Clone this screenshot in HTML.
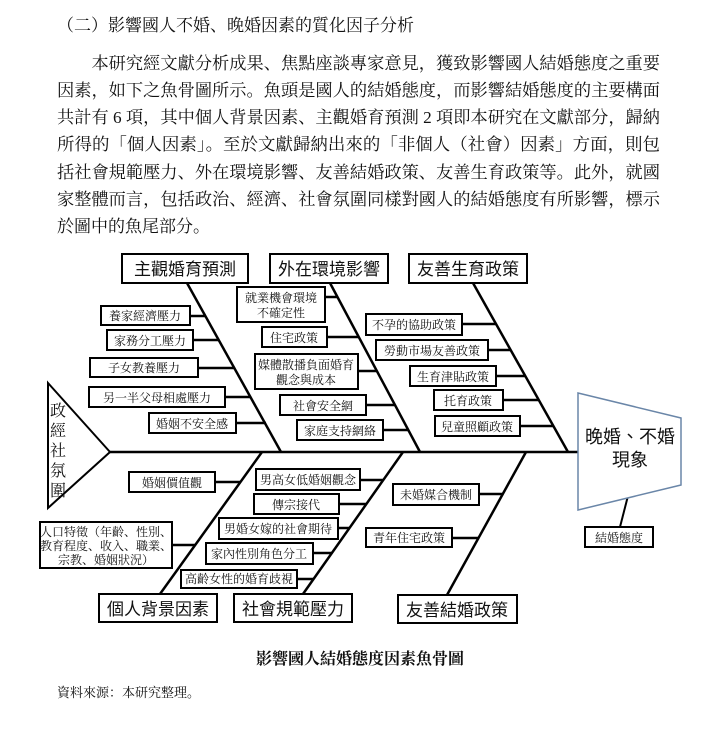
<!DOCTYPE html>
<html><head><meta charset="utf-8"><style>
html,body{margin:0;padding:0;background:#fff;}
body{width:720px;height:725px;overflow:hidden;}
svg text{font-family:"Liberation Serif","Noto Serif CJK SC","Noto Sans CJK TC",serif;fill:#111;}
.t{font-size:17px;}
.b{font-size:12px;}
.m{font-family:"Liberation Sans","Noto Sans CJK TC",sans-serif !important;font-size:17px;}
</style></head><body>
<svg width="720" height="725" xmlns="http://www.w3.org/2000/svg">
<g class="t">
<text x="57" y="31">（二）影響國人不婚、晚婚因素的質化因子分析</text>
<text x="57" y="69" textLength="603" lengthAdjust="spacingAndGlyphs">　　本研究經文獻分析成果、焦點座談專家意見，獲致影響國人結婚態度之重要</text>
<text x="57" y="96" textLength="603" lengthAdjust="spacingAndGlyphs">因素，如下之魚骨圖所示。魚頭是國人的結婚態度，而影響結婚態度的主要構面</text>
<text x="57" y="123" textLength="603" lengthAdjust="spacingAndGlyphs">共計有 6 項，其中個人背景因素、主觀婚育預測 2 項即本研究在文獻部分，歸納</text>
<text x="57" y="150" textLength="603" lengthAdjust="spacingAndGlyphs">所得的「個人因素」。至於文獻歸納出來的「非個人（社會）因素」方面，則包</text>
<text x="57" y="178" textLength="603" lengthAdjust="spacingAndGlyphs">括社會規範壓力、外在環境影響、友善結婚政策、友善生育政策等。此外，就國</text>
<text x="57" y="205" textLength="603" lengthAdjust="spacingAndGlyphs">家整體而言，包括政治、經濟、社會氛圍同樣對國人的結婚態度有所影響，標示</text>
<text x="57" y="232">於圖中的魚尾部分。</text>
</g>
<g stroke="#000" stroke-width="2.5" fill="none">
<line x1="110" y1="452" x2="578" y2="452"/>
<polygon points="48,383 110,452 48,508" stroke-width="2"/>
<line x1="187" y1="283" x2="281" y2="452"/>
<line x1="330" y1="283" x2="420" y2="452"/>
<line x1="473" y1="283" x2="568" y2="452"/>
<line x1="160" y1="594" x2="262" y2="452"/>
<line x1="303" y1="594" x2="403" y2="452"/>
<line x1="447" y1="595" x2="526" y2="452"/>
<line x1="630" y1="488" x2="620" y2="527" stroke-width="2"/>
<line x1="190" y1="316" x2="206" y2="316"/>
<line x1="193" y1="340" x2="219" y2="340"/>
<line x1="198" y1="368" x2="235" y2="368"/>
<line x1="225" y1="397" x2="251" y2="397"/>
<line x1="236" y1="423" x2="266" y2="423"/>
<line x1="325" y1="297" x2="337" y2="297"/>
<line x1="327" y1="337" x2="359" y2="337"/>
<line x1="358" y1="371" x2="377" y2="371"/>
<line x1="366" y1="405" x2="395" y2="405"/>
<line x1="383" y1="430" x2="409" y2="430"/>
<line x1="462" y1="324" x2="496" y2="324"/>
<line x1="488" y1="350" x2="510" y2="350"/>
<line x1="496" y1="376" x2="525" y2="376"/>
<line x1="503" y1="400" x2="538" y2="400"/>
<line x1="520" y1="426" x2="553" y2="426"/>
<line x1="215" y1="482" x2="240" y2="482"/>
<line x1="172" y1="545" x2="195" y2="545"/>
<line x1="360" y1="480" x2="383" y2="480"/>
<line x1="339" y1="504" x2="366" y2="504"/>
<line x1="338" y1="528" x2="349" y2="528"/>
<line x1="313" y1="553" x2="332" y2="553"/>
<line x1="297" y1="579" x2="314" y2="579"/>
<line x1="479" y1="494" x2="503" y2="494"/>
<line x1="452" y1="538" x2="479" y2="538"/>
</g>
<polygon points="578,393 681,418 681,485 578,510" fill="#fff" stroke="#6a86a8" stroke-width="1.5"/>
<g fill="#fff" stroke="#000" stroke-width="2">
<rect x="122" y="254" width="126" height="29"/>
<rect x="270" y="254" width="118" height="29"/>
<rect x="409" y="254" width="118" height="29"/>
<rect x="99" y="594" width="118" height="28"/>
<rect x="234" y="594" width="118" height="28"/>
<rect x="398" y="595" width="119" height="28"/>
<rect x="101" y="306" width="89" height="19"/>
<rect x="107" y="330" width="86" height="20"/>
<rect x="90" y="358" width="108" height="19"/>
<rect x="89" y="387" width="136" height="20"/>
<rect x="149" y="413" width="87" height="20"/>
<rect x="237" y="287" width="88" height="35"/>
<rect x="262" y="327" width="65" height="20"/>
<rect x="255" y="354" width="103" height="35"/>
<rect x="280" y="395" width="86" height="20"/>
<rect x="297" y="420" width="86" height="20"/>
<rect x="366" y="314" width="96" height="21"/>
<rect x="376" y="340" width="112" height="20"/>
<rect x="410" y="366" width="86" height="20"/>
<rect x="434" y="390" width="69" height="20"/>
<rect x="435" y="416" width="85" height="20"/>
<rect x="129" y="472" width="86" height="20"/>
<rect x="40" y="522" width="132" height="46"/>
<rect x="256" y="469" width="104" height="21"/>
<rect x="254" y="494" width="85" height="20"/>
<rect x="219" y="518" width="119" height="21"/>
<rect x="206" y="543" width="107" height="21"/>
<rect x="181" y="570" width="116" height="18"/>
<rect x="393" y="484" width="86" height="21"/>
<rect x="366" y="528" width="86" height="19"/>
<rect x="585" y="527" width="68" height="20"/>
</g>
<g class="m" text-anchor="middle">
<text class="m" x="185" y="275">主觀婚育預測</text>
<text class="m" x="329" y="275">外在環境影響</text>
<text class="m" x="468" y="275">友善生育政策</text>
<text class="m" x="158" y="615">個人背景因素</text>
<text class="m" x="293" y="615">社會規範壓力</text>
<text class="m" x="457" y="616">友善結婚政策</text>
<text class="m" x="630" y="443" style="font-size:18px">晚婚、不婚</text>
<text class="m" x="630" y="466" style="font-size:18px">現象</text>
</g>
<g class="b" text-anchor="middle">
<text class="b" x="145" y="320">養家經濟壓力</text>
<text class="b" x="150" y="345">家務分工壓力</text>
<text class="b" x="144" y="372">子女教養壓力</text>
<text class="b" x="157" y="402">另一半父母相處壓力</text>
<text class="b" x="192" y="428">婚姻不安全感</text>
<text class="b" x="281" y="302">就業機會環境</text>
<text class="b" x="281" y="317">不確定性</text>
<text class="b" x="306" y="369">媒體散播負面婚育</text>
<text class="b" x="306" y="384">觀念與成本</text>
<text class="b" x="294" y="342">住宅政策</text>
<text class="b" x="323" y="410">社會安全網</text>
<text class="b" x="340" y="435">家庭支持網絡</text>
<text class="b" x="414" y="329">不孕的協助政策</text>
<text class="b" x="432" y="355">勞動市場友善政策</text>
<text class="b" x="453" y="381">生育津貼政策</text>
<text class="b" x="468" y="405">托育政策</text>
<text class="b" x="477" y="431">兒童照顧政策</text>
<text class="b" x="172" y="487">婚姻價值觀</text>
<text class="b" x="106" y="536">人口特徵（年齡、性別、</text>
<text class="b" x="106" y="550">教育程度、收入、職業、</text>
<text class="b" x="106" y="564">宗教、婚姻狀況）</text>
<text class="b" x="308" y="484">男高女低婚姻觀念</text>
<text class="b" x="296" y="509">傳宗接代</text>
<text class="b" x="278" y="533">男婚女嫁的社會期待</text>
<text class="b" x="259" y="558">家內性別角色分工</text>
<text class="b" x="239" y="583">高齡女性的婚育歧視</text>
<text class="b" x="436" y="499">未婚媒合機制</text>
<text class="b" x="409" y="542">青年住宅政策</text>
<text class="b" x="619" y="542">結婚態度</text>
</g>
<g text-anchor="middle">
<text x="58" y="416" style="font-size:16px">政</text>
<text x="58" y="436" style="font-size:16px">經</text>
<text x="58" y="456" style="font-size:16px">社</text>
<text x="58" y="476" style="font-size:16px">氛</text>
<text x="58" y="496" style="font-size:16px">圍</text>
</g>
<text x="360" y="664" text-anchor="middle" style="font-size:16px;font-weight:bold">影響國人結婚態度因素魚骨圖</text>
<text x="57" y="697" style="font-size:13px">資料來源：本研究整理。</text>
</svg>
</body></html>
